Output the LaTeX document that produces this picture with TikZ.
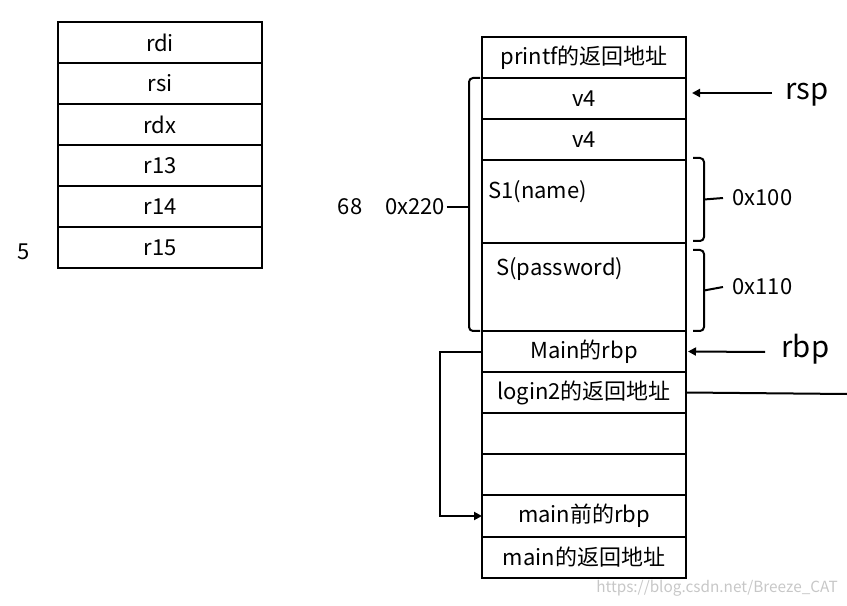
\documentclass[tikz,border=0pt]{standalone}
\usepackage{fontspec}
\setmainfont{Noto Sans CJK SC}
\usetikzlibrary{positioning,arrows.meta}
\tikzset{cell/.style={draw, line width=1.5pt, minimum width=153pt, minimum height=30.75pt,
         inner sep=0pt, outer sep=0pt, font=\fontsize{16.5}{19}\selectfont},
         tag/.style={inner sep=1pt, font=\fontsize{16.5}{19}\selectfont},
         reg/.style={inner sep=1pt, font=\fontsize{22}{25}\selectfont},
         bkt/.style={line width=1.5pt, rounded corners=3pt},
         arr/.style={line width=1.5pt, -{Triangle[length=6pt,width=6pt]}}}

\begin{document}
\begin{tikzpicture}[x=0.75pt, y=-0.75pt]
  \useasboundingbox (0,0) rectangle (847,606);

  % registers
  \node[cell] (l1) at (160,42.5) {rdi};
  \node[cell, below=0pt of l1] (l2) {rsi};
  \node[cell, below=0pt of l2] (l3) {rdx};
  \node[cell, below=0pt of l3] (l4) {r13};
  \node[cell, below=0pt of l4] (l5) {r14};
  \node[cell, below=0pt of l5] (l6) {r15};
  \node[tag] (n5) at (24,252) {5};

  % stack
  \node[cell] (s1) at (584,57.5) {printf的返回地址};
  \node[cell, below=0pt of s1] (s2) {v4};
  \node[cell, below=0pt of s2] (s3) {v4};
  \node[cell, below=0pt of s3, minimum height=62.25pt] (s4) {};
  \node[cell, below=0pt of s4, minimum height=66pt] (s5) {};
  \node[cell, below=0pt of s5] (s6) {Main的rbp};
  \node[cell, below=0pt of s6] (s7) {login2的返回地址};
  \node[cell, below=0pt of s7] (s8) {};
  \node[cell, below=0pt of s8] (s9) {};
  \node[cell, below=0pt of s9, minimum height=31.5pt] (s10) {main前的rbp};
  \node[cell, below=0pt of s10] (s11) {main的返回地址};
  \node[tag, anchor=west] (name) at ([xshift=3.5pt,yshift=-24pt]s4.north west) {S1(name)};
  \node[tag, anchor=west] (pass) at ([xshift=9.5pt,yshift=-19.5pt]s5.north west) {S(password)};

  % sizes
  \node[tag] (h68) at (350,207) {68};
  \node[tag] (h220) at (415,207) {0x220};
  \draw[bkt] (480,78) -- (469,78) -- (469,331) -- (480,331);
  \draw[line width=1.5pt] (h220.east) -- (469,207);
  \draw[bkt] (693,158) -- (704,158) -- (704,241) -- (693,241);
  \draw[bkt] (693,250) -- (704,250) -- (704,331) -- (693,331);
  \node[tag, anchor=west] (h100) at (731,198) {0x100};
  \node[tag, anchor=west] (h110) at (731,287) {0x110};
  \draw[line width=1.5pt] (704,199.5) -- ([xshift=-6pt]h100.west);
  \draw[line width=1.5pt] (704,290.5) -- ([xshift=-6pt]h110.west);

  % pointers
  \node[reg, anchor=west] (rsp) at (784,95) {rsp};
  \node[reg, anchor=west] (rbp) at (780,349) {rbp};
  \coordinate (rspfrom) at (772,93);
  \coordinate (rbpfrom) at (765,352);
  \coordinate (retend) at (847,394);
  \draw[arr] (rspfrom) -- (692,93);
  \draw[arr] (rbpfrom) -- ([xshift=1.5pt]s6.east);
  \draw[line width=1.5pt] (s7.east) -- (retend);
  \draw[arr] (s6.west) -- ++(-31.5pt,0) |- (s10.west);

  \node[inner sep=0pt, text=black!22, font=\fontsize{11.5}{13}\selectfont] (mark) at (717,588) {https://blog.csdn.net/Breeze\_CAT};
\end{tikzpicture}
\end{document}
